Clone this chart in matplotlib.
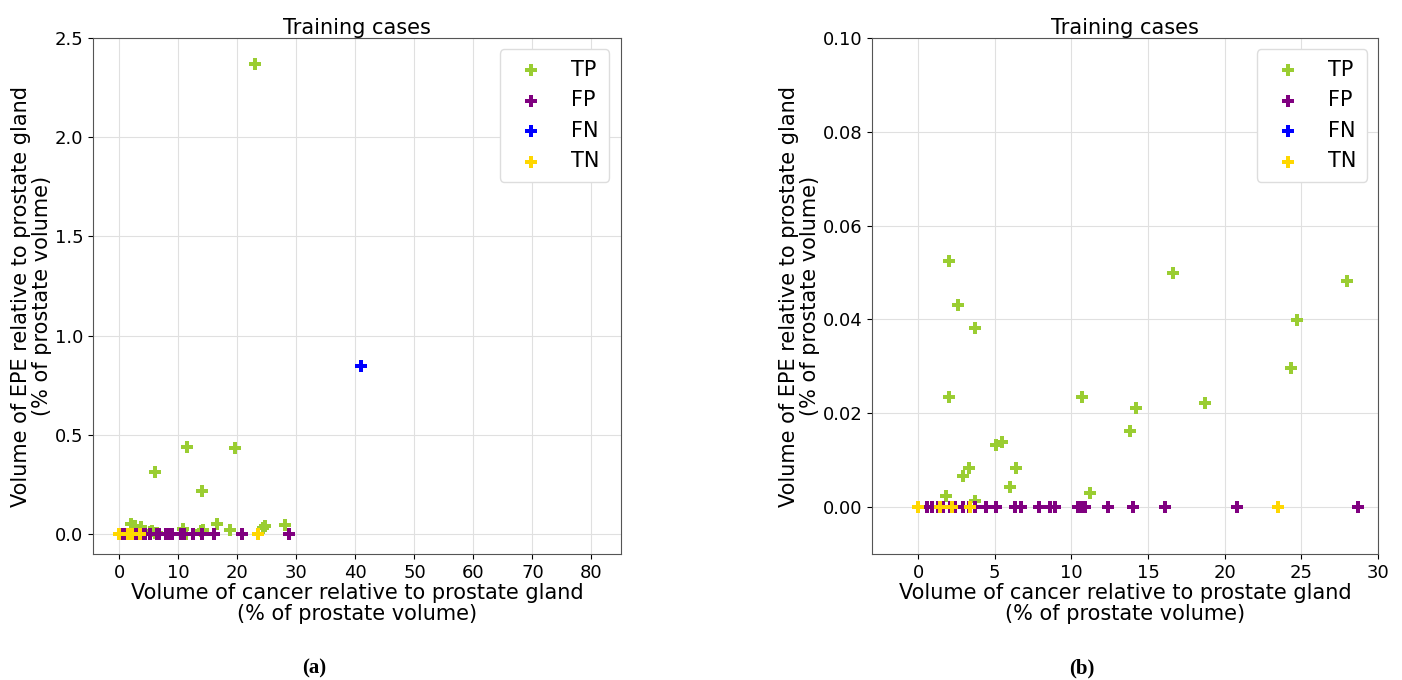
import numpy as np
import matplotlib.pyplot as plt

# case groups: x = cancer volume (% of prostate), y = EPE volume (% of prostate)
tp_x = [2.0, 2.6, 3.7, 2.05, 16.6, 28.0, 24.7, 24.3, 10.7, 14.2, 18.7, 13.8, 5.1, 5.5,
        6.4, 3.3, 2.9, 6.0, 11.2, 1.8, 3.7, 22.9, 11.4, 19.5, 6.1, 14.0]
tp_y = [0.0525, 0.0431, 0.0382, 0.0234, 0.0500, 0.0481, 0.0399, 0.0297, 0.0235, 0.0212,
        0.0221, 0.0163, 0.0133, 0.0139, 0.0083, 0.0083, 0.0067, 0.0043, 0.0031, 0.0023,
        0.0013, 2.37, 0.441, 0.433, 0.315, 0.218]

fp_x = [0.6, 0.9, 1.3, 1.6, 2.1, 2.4, 2.9, 3.3, 3.7, 4.4, 5.1, 6.3, 6.7, 7.9, 8.6, 8.9,
        10.4, 10.7, 10.9, 12.4, 14.0, 16.1, 20.8, 28.7]
fp_y = [0.0] * len(fp_x)

fn_x = [41.0]
fn_y = [0.845]

tn_x = [0.0, 1.4, 2.2, 3.4, 23.5]
tn_y = [0.0] * len(tn_x)

groups = [('TP', tp_x, tp_y, 'yellowgreen'),
          ('FP', fp_x, fp_y, 'purple'),
          ('FN', fn_x, fn_y, 'blue'),
          ('TN', tn_x, tn_y, 'gold')]

fig = plt.figure(figsize=(14.02, 6.8), dpi=100)
ax1 = fig.add_axes([0.0663, 0.1853, 0.3766, 0.7588])
ax2 = fig.add_axes([0.622, 0.1853, 0.361, 0.7588])

for ax in (ax1, ax2):
    for name, x, y, c in groups:
        ax.scatter(x, y, marker='P', s=65, color=c, label=name, zorder=3, linewidths=0)
    ax.grid(True, color='#e0e0e0', linewidth=0.8)
    ax.set_axisbelow(True)
    ax.set_title('Training cases', fontsize=15, pad=3)
    ax.set_xlabel('Volume of cancer relative to prostate gland\n(% of prostate volume)',
                  fontsize=15, labelpad=1, linespacing=1.05)
    ax.set_ylabel('Volume of EPE relative to prostate gland\n(% of prostate volume)',
                  fontsize=15, labelpad=2, linespacing=1.05)
    ax.tick_params(labelsize=13)
    for s in ax.spines.values():
        s.set_color('#555555')
    ax.legend(loc='upper right', fontsize=15, handletextpad=0.9, borderpad=0.5,
              labelspacing=0.5, framealpha=1, edgecolor='#dddddd', borderaxespad=0.55)

ax1.set_xlim(-4.5, 85)
ax1.set_ylim(-0.1, 2.5)
ax1.set_xticks(np.arange(0, 81, 10))

ax2.set_xlim(-3, 30)
ax2.set_ylim(-0.01, 0.1)
ax2.set_yticks(np.arange(0, 0.101, 0.02))
ax2.yaxis.set_major_formatter(plt.FormatStrFormatter('%.2f'))

fig.text(314 / 1402, 1 - 668 / 680, '(a)', ha='center', va='center',
         fontsize=15, family='Liberation Serif', weight='bold')
fig.text(1082 / 1402, 1 - 668 / 680, '(b)', ha='center', va='center',
         fontsize=15, family='Liberation Serif', weight='bold')

fig.savefig('out.png', dpi=100)
